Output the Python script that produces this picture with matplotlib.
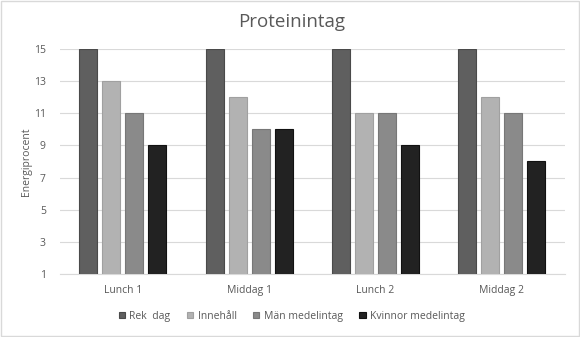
import numpy as np
import matplotlib.pyplot as plt

plt.rcParams["font.family"] = ["Open Sans", "DejaVu Sans"]

categories = ["Lunch 1", "Middag 1", "Lunch 2", "Middag 2"]
series_names = ["Rek  dag", "Innehåll", "Män medelintag", "Kvinnor medelintag"]
rek_dag = [15, 15, 15, 15]
innehall = [13, 12, 11, 12]
man_medel = [11, 10, 11, 11]
kvinnor_medel = [9, 10, 9, 8]
y_ticks = [1, 3, 5, 7, 9, 11, 13, 15]

colors = ["#5f5f5f", "#b2b2b2", "#8a8a8a", "#222222"]
edges = ["#4a4a4a", "#a0a0a0", "#777777", "#111111"]

fig = plt.figure(figsize=(5.8, 3.37), dpi=100)
ax = fig.add_axes([0.103, 0.187, 0.871, 0.668])

x = np.arange(len(categories))
width = 0.143
step = 0.182
for i, vals in enumerate([rek_dag, innehall, man_medel, kvinnor_medel]):
    ax.bar(x + (i - 1.5) * step, vals, width, color=colors[i],
           edgecolor=edges[i], linewidth=0.8, label=series_names[i], zorder=3)

ax.set_xlim(-0.5, len(categories) - 0.5)
ax.set_ylim(1, 15)
ax.set_yticks(y_ticks)
ax.set_xticks(x)
ax.set_xticklabels(categories)
ax.grid(axis="y", color="#d9d9d9", linewidth=0.8, zorder=0)
for s in ["top", "left", "right"]:
    ax.spines[s].set_visible(False)
ax.spines["bottom"].set_color("#d9d9d9")
ax.tick_params(axis="both", length=0, labelsize=7.5, colors="#595959", pad=8)
ax.tick_params(axis="y", pad=10)
ax.set_ylabel("Energiprocent", fontsize=7.5, color="#595959", labelpad=1)
fig.suptitle("Proteinintag", x=0.502, y=0.96, fontsize=13.5, color="#595959")

fig.legend(loc="center", bbox_to_anchor=(0.503, 0.062), ncol=4, frameon=False,
           fontsize=7.5, handlelength=0.6, handleheight=0.6, columnspacing=1.6,
           handletextpad=0.4, labelcolor="#595959")

fig.patches.append(plt.Rectangle((0.001, 0.002), 0.997, 0.995, transform=fig.transFigure,
                                 fill=False, edgecolor="#d9d9d9", linewidth=1))

fig.savefig("out.png", dpi=100)
